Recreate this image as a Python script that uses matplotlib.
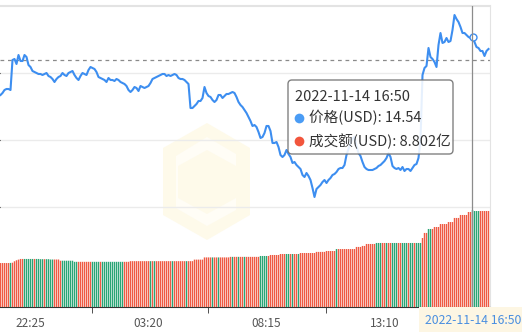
import numpy as np
import pandas as pd
import matplotlib
matplotlib.use("Agg")
import matplotlib.pyplot as plt
from matplotlib.patches import FancyBboxPatch, Polygon
from matplotlib.lines import Line2D
from matplotlib.transforms import IdentityTransform

plt.rcParams['font.family'] = ['Noto Sans CJK SC', 'DejaVu Sans']

# 数据 (5 分钟一根)
start_time = "2022-11-13 21:10"

price = [
    14.250, 14.260, 14.275, 14.280, 14.280, 14.275, 14.425, 14.430, 14.405, 14.450,
    14.420, 14.420, 14.450, 14.440, 14.400, 14.390, 14.370, 14.365, 14.360, 14.355,
    14.355, 14.350, 14.355, 14.360, 14.345, 14.340, 14.330, 14.315, 14.330, 14.340,
    14.345, 14.360, 14.350, 14.345, 14.360, 14.365, 14.370, 14.350, 14.335, 14.325,
    14.345, 14.360, 14.355, 14.350, 14.375, 14.390, 14.385, 14.380, 14.365, 14.340,
    14.335, 14.330, 14.325, 14.315, 14.335, 14.325, 14.325, 14.320, 14.330, 14.325,
    14.315, 14.310, 14.305, 14.295, 14.275, 14.265, 14.275, 14.290, 14.285, 14.270,
    14.295, 14.290, 14.285, 14.290, 14.295, 14.310, 14.330, 14.335, 14.340, 14.345,
    14.350, 14.355, 14.355, 14.345, 14.350, 14.345, 14.350, 14.355, 14.350, 14.335,
    14.330, 14.330, 14.325, 14.315, 14.305, 14.185, 14.185, 14.195, 14.205, 14.220,
    14.220, 14.235, 14.290, 14.260, 14.245, 14.240, 14.225, 14.215, 14.225, 14.250,
    14.250, 14.235, 14.245, 14.255, 14.255, 14.260, 14.265, 14.260, 14.240, 14.215,
    14.200, 14.190, 14.175, 14.160, 14.140, 14.120, 14.095, 14.100, 14.090, 14.065,
    14.035, 14.040, 14.060, 14.095, 14.095, 14.070, 14.010, 14.010, 14.015, 13.990,
    13.950, 13.940, 13.950, 13.975, 13.955, 13.940, 13.910, 13.915, 13.900, 13.890,
    13.880, 13.850, 13.840, 13.860, 13.845, 13.825, 13.785, 13.740, 13.780, 13.790,
    13.800, 13.815, 13.825, 13.810, 13.825, 13.835, 13.850, 13.855, 13.865, 13.880,
    13.885, 13.885, 13.900, 13.950, 13.980, 14.010, 14.030, 14.040, 13.995, 13.960,
    13.945, 13.915, 13.890, 13.880, 13.875, 13.875, 13.875, 13.880, 13.885, 13.895,
    13.900, 13.910, 13.920, 13.935, 13.960, 13.940, 13.895, 13.885, 13.880, 13.885,
    13.875, 13.890, 13.870, 13.880, 13.880, 13.870, 13.885, 13.900, 13.905, 13.935,
    14.025, 14.350, 14.385, 14.395, 14.485, 14.440, 14.430, 14.415, 14.390, 14.500,
    14.560, 14.510, 14.515, 14.535, 14.515, 14.520, 14.575, 14.650, 14.630, 14.615,
    14.590, 14.560, 14.560, 14.550, 14.540, 14.535, 14.540, 14.515, 14.490, 14.485,
    14.470, 14.470, 14.445, 14.470, 14.480,
]

# 成交额 (亿 USD)
volume = ([3.99] * 5 + [4.00, 4.02, 4.15, 4.24, 4.30] + [4.36] * 10 + [4.34] * 5
          + [4.31] * 5 + [4.20] * 7 + [4.10] * 28 + [4.16] * 32 + [4.30] * 5
          + [4.50] * 13 + [4.55] * 15 + [4.63] * 5 + [4.72] * 5 + [4.81] * 10
          + [4.90] * 8 + [5.00] * 5 + [5.08] * 5 + [5.26] * 10 + [5.45] * 3
          + [5.54] * 2 + [5.72] * 5 + [5.81] * 23 + [6.26] + [6.72] * 2
          + [7.08] * 3 + [7.26] * 3 + [7.53] * 4 + [7.71] * 3 + [8.08] * 3
          + [8.35] * 4 + [8.62] * 2 + [8.802] + [8.71] * 8)

# 柱子颜色 (r=红, g=绿), 按段
color_runs = [
    ('r', 5), ('g', 1), ('r', 6), ('g', 5), ('r', 1), ('g', 4), ('r', 1), ('g', 4),
    ('r', 4), ('g', 8), ('r', 7), ('g', 4), ('r', 1), ('g', 11), ('r', 13), ('g', 1),
    ('r', 1), ('g', 1), ('r', 8), ('g', 1), ('r', 6), ('g', 1), ('r', 12), ('g', 1),
    ('r', 2), ('g', 1), ('r', 6), ('g', 1), ('r', 2), ('g', 1), ('r', 2), ('g', 1),
    ('r', 7), ('g', 4), ('r', 9), ('g', 2), ('r', 1), ('g', 1), ('r', 2), ('g', 1),
    ('r', 18), ('g', 1), ('r', 19), ('g', 3), ('r', 2), ('g', 1), ('r', 2), ('g', 3),
    ('r', 2), ('g', 3), ('r', 1), ('g', 2), ('r', 1), ('g', 3), ('r', 3), ('g', 2),
    ('r', 20), ('g', 4), ('r', 5),
]

ref_price = 14.425
hover_idx = 236
label_idx = [15, 74, 133, 192]
tick_pos = [45.5, 103.5, 162.5, 214.5]

# 颜色
LINE_C = '#3d8ef0'
RED = '#ef5a43'
GREEN = '#2aa575'

times = pd.date_range(start_time, periods=len(price), freq='5min')
x = np.arange(len(price))
bar_colors = []
for c, n in color_runs:
    bar_colors += [RED if c == 'r' else GREEN] * n

W, H = 522, 332
fig = plt.figure(figsize=(W / 100, H / 100), dpi=100)
ax = fig.add_axes([0, 25 / H, 490 / W, 301 / H])
ax.set_xlim(-0.25, len(price) - 0.25)
ax.set_ylim(13.19, 14.695)

# 水印
def px(pts):
    return [(a, H - b) for a, b in pts]

hexa = Polygon(px([(207, 123), (250, 148), (250, 215), (207, 240), (163, 215), (163, 148)]),
               closed=True, transform=IdentityTransform(), fc='#fefaea', ec='none', zorder=0)
inner = Polygon(px([(207, 137), (236, 154), (236, 166), (207, 150), (178, 166), (178, 198),
                    (207, 214), (236, 198), (236, 210), (207, 226), (176, 208), (176, 156)]),
                closed=True, transform=IdentityTransform(), fc='#fffdf6', ec='none', zorder=0)
fig.add_artist(hexa)
fig.add_artist(inner)

# 网格
ax.set_yticks([13.69, 14.025, 14.36])
ax.yaxis.grid(True, color='#ebebeb', lw=1)
ax.tick_params(axis='y', left=False, labelleft=False)
ax.set_axisbelow(True)
ax.spines['left'].set_visible(False)
ax.spines['top'].set_color('#e3e3e3')
ax.spines['top'].set_linewidth(1.5)
ax.spines['right'].set_color('#e3e3e3')
ax.spines['bottom'].set_color('#333333')
ax.patch.set_alpha(0)

ax.axhline(ref_price, color='#8a8a8a', lw=0.9, ls=(0, (3, 3)), zorder=2)
ax.plot(x, price, color=LINE_C, lw=1.5, zorder=3, solid_joinstyle='round')
ax.plot(x[hover_idx], price[hover_idx], 'o', ms=5, mfc='white', mec=LINE_C, mew=1, zorder=4)

# 成交额
axv = ax.twinx()
axv.set_ylim(0, 8.802 * 301 / 97)
bars = axv.bar(x, volume, width=0.7, color=bar_colors, linewidth=0)
for b in bars:
    b.set_snap(False)
axv.axis('off')
axv.axvline(hover_idx, color='#8c8c8c', lw=0.9)

# x 轴
ax.set_xticks(label_idx)
ax.set_xticklabels([f"{times[i]:%H:%M}" for i in label_idx], color='#555555', fontsize=8.5)
ax.set_xticks(tick_pos, minor=True)
ax.tick_params(axis='x', which='major', length=0, pad=7)
ax.tick_params(axis='x', which='minor', length=4, color='#333333')

# 底部高亮时间
fig.text(473 / W, 1 - 320 / H, f"{times[hover_idx]:%Y-%m-%d %H:%M}", color='#4a8fe0',
         fontsize=8.8, ha='center', va='center',
         bbox=dict(boxstyle='square,pad=0.5', fc='#fdf6e3', ec='none'))

# 提示框
box = FancyBboxPatch((288, H - 154), 165, 74, boxstyle='round,pad=0,rounding_size=4',
                     transform=IdentityTransform(), fc='white', ec='#6f6f6f', lw=1,
                     alpha=0.88, zorder=10)
fig.add_artist(box)
fig.text(295 / W, 1 - 97 / H, f"{times[hover_idx]:%Y-%m-%d %H:%M}", color='#333333',
         fontsize=10.5, va='center', zorder=11)
fig.add_artist(Line2D([299 / W], [1 - 118 / H], marker='o', ms=7, mfc='#4a9cf5', mec='none',
                      transform=fig.transFigure, zorder=11))
fig.add_artist(Line2D([299 / W], [1 - 141 / H], marker='o', ms=7, mfc='#f2553c', mec='none',
                      transform=fig.transFigure, zorder=11))
fig.text(309 / W, 1 - 118 / H, f"价格(USD): {price[hover_idx]:.2f}", color='#333333',
         fontsize=10.5, va='center', zorder=11)
fig.text(309 / W, 1 - 141 / H, f"成交额(USD): {volume[hover_idx]:.3f}亿", color='#333333',
         fontsize=10.5, va='center', zorder=11)

fig.savefig('out.png', dpi=100)
